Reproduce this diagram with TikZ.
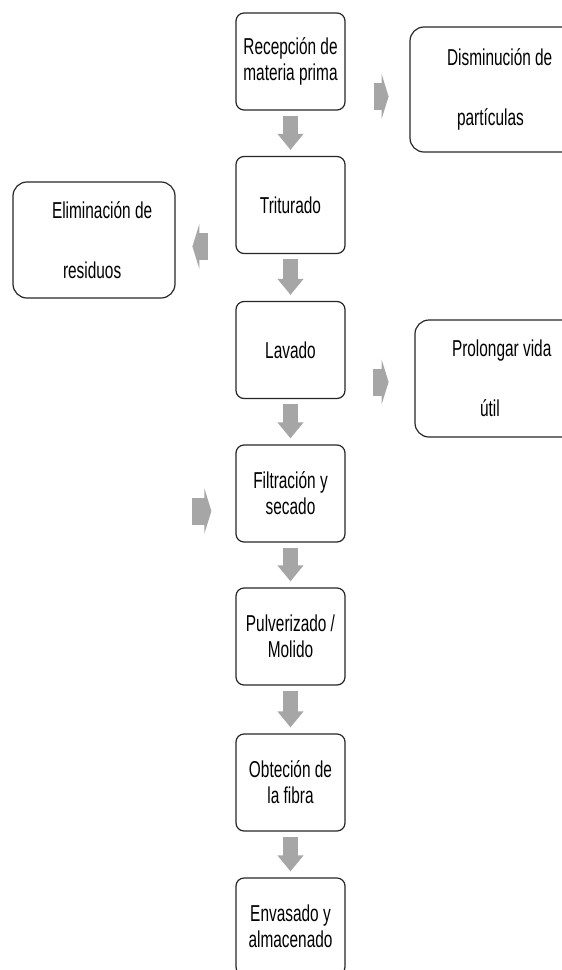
\documentclass[tikz,border=0pt]{standalone}
\usepackage{fontspec}
\setmainfont{Liberation Sans}[FakeStretch=0.67]
\usetikzlibrary{arrows.meta}

\tikzset{
  paso/.style={draw=black!85, line width=1.2pt, rounded corners=8pt,
    minimum width=109pt, minimum height=97pt, align=center,
    font=\fontsize{23}{26}\selectfont},
  lateral/.style={draw=black!85, line width=1.2pt, rounded corners=14pt,
    inner xsep=0pt, align=flush left, font=\fontsize{23}{26}\selectfont},
  bajada/.style={draw=black!35, line width=15pt,
    -{Triangle[width=25pt, length=16pt]}},
  costado/.style={draw=black!35, line width=27pt,
    -{Triangle[width=45pt, length=7pt]}}
}

\begin{document}
\begin{tikzpicture}[x=1pt, y=-1pt]
    \useasboundingbox (0,0) rectangle (562,970);
    % etapas del proceso
    \node (1)[paso] at (290.5,61.5) {Recepción de\\materia prima};
    \node (2)[paso] at (290.5,205) {Triturado};
    \node (3)[paso] at (290.5,350) {Lavado};
    \node (4)[paso] at (290.5,493.5) {Filtración y\\secado};
    \node (5)[paso] at (290.5,636.5) {Pulverizado /\\Molido};
    \node (6)[paso] at (290.5,782.5) {Obteción de\\la fibra};
    \node (7)[paso] at (290.5,926.5) {Envasado y\\almacenado};
    % objetivos
    \node (dis)[lateral, text width=190pt, minimum height=125pt] at (505,89.5)
        {\hspace*{37pt}Disminución de\\[34pt]\hspace*{47pt}partículas};
    \node (eli)[lateral, text width=162pt, minimum height=116pt] at (94,240)
        {\hspace*{39pt}Eliminación de\\[34pt]\hspace*{50pt}residuos};
    \node (pro)[lateral, text width=190pt, minimum height=117pt] at (510,378.5)
        {\hspace*{37pt}Prolongar vida\\[34pt]\hspace*{65pt}útil};
    %
    \draw [bajada]([yshift=-5pt]1.south)--([yshift=6pt]2.north);
    \draw [bajada]([yshift=-5pt]2.south)--([yshift=6pt]3.north);
    \draw [bajada]([yshift=-5pt]3.south)--([yshift=6pt]4.north);
    \draw [bajada]([yshift=-5pt]4.south)--([yshift=6pt]5.north);
    \draw [bajada]([yshift=-5pt]5.south)--([yshift=6pt]6.north);
    \draw [bajada]([yshift=-5pt]6.south)--([yshift=6pt]7.north);
    %
    \draw [costado]([shift={(28,35)}]1.east)--++(15,0);
    \draw [costado]([shift={(-27,41.5)}]2.west)--++(-16,0);
    \draw [costado]([shift={(27,32)}]3.east)--++(16,0);
    \draw [costado]([shift={(-43,17.5)}]4.west)--++(19,0);
\end{tikzpicture}
\end{document}
